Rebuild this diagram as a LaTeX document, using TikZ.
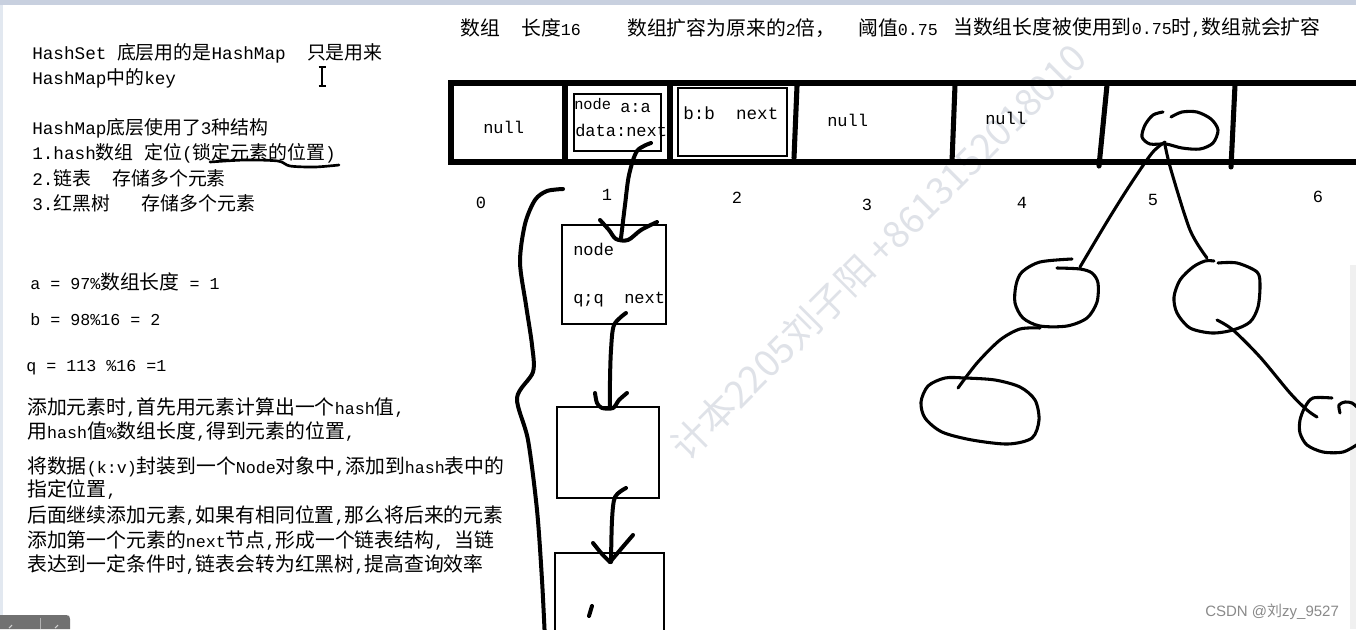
\documentclass[tikz,border=0pt]{standalone}
\usepackage{fontspec}
\setmainfont{Liberation Mono}
\setsansfont{Liberation Sans}
\newfontfamily\cjkA[Scale=1.07]{Noto Sans CJK SC}
\newfontfamily\cjkB[Scale=1.19]{Noto Sans CJK SC}
\newfontfamily\wmfont{Noto Sans CJK SC}
\newfontfamily\csdnzh{Noto Sans CJK SC}
\def\zhfont{\cjkA}
\def\backfont{\rmfamily}
\XeTeXinterchartokenstate=1
\newXeTeXintercharclass\zhclass
\count255="21
\loop \XeTeXcharclass\count255=0 \advance\count255 by 1 \ifnum\count255<"7F \repeat
\count255="3000
\loop \XeTeXcharclass\count255=\zhclass \advance\count255 by 1 \ifnum\count255<"3040 \repeat
\count255="4E00
\loop \XeTeXcharclass\count255=\zhclass \advance\count255 by 1 \ifnum\count255<"A000 \repeat
\count255="FF00
\loop \XeTeXcharclass\count255=\zhclass \advance\count255 by 1 \ifnum\count255<"FFF0 \repeat
\XeTeXinterchartoks 0 \zhclass = {\zhfont}
\XeTeXinterchartoks 4095 \zhclass = {\zhfont}
\XeTeXinterchartoks \zhclass 0 = {\backfont}
\XeTeXinterchartoks \zhclass 4095 = {\backfont}
\definecolor{topstrip}{HTML}{C8D0DF}
\definecolor{leftstrip}{HTML}{E2E8F0}
\definecolor{rightshade}{HTML}{F0F0F0}
\definecolor{wmgray}{HTML}{DFE2E8}
\definecolor{csdngray}{HTML}{8A8A8A}
\definecolor{tabgray}{HTML}{717171}
\tikzset{
  lt/.style={anchor=west, inner sep=0pt, font=\fontsize{13.25}{16}\selectfont\def\zhfont{\cjkA}},
  bt/.style={anchor=west, inner sep=0pt, font=\fontsize{12.5}{16}\selectfont\def\zhfont{\cjkB}},
  mt/.style={inner sep=0pt, font=\fontsize{12.75}{15}\selectfont},
  thinbox/.style={draw, line width=0.9pt, inner sep=0pt},
  frameline/.style={line width=4.1pt},
  divider/.style={line width=3.8pt, line cap=round},
  hand/.style={line width=3pt, line cap=round, line join=round},
  tree/.style={line width=2.3pt, line cap=round, line join=round},
  uline/.style={line width=2pt, line cap=round},
  wm/.style={text=wmgray, inner sep=0pt, rotate=45, font=\fontsize{28}{32}\selectfont\wmfont\def\zhfont{\wmfont}\def\backfont{\wmfont}},
}
\begin{document}
\begin{tikzpicture}[x=0.75pt,y=-0.75pt]
\useasboundingbox (0,0) rectangle (1356,629);
\clip (0,0) rectangle (1356,629);
\fill[white] (0,0) rectangle (1356,629);
\fill[topstrip] (0,0) rectangle (1356,4.5);
\fill[leftstrip] (0,4.5) rectangle (3,615);
\fill[rightshade] (1350,265) rectangle (1356,629);

% watermark
\node[wm] (wm) at (878,252) {计本2205刘子阳 +8613152018010};

% header
\node[bt] (h1) at (460,28) {数组};
\node[bt] (h2) at (521,28) {长度16};
\node[bt] (h3) at (627,28) {数组扩容为原来的2倍，};
\node[bt] (h4) at (858,28) {阈值0.75};
\node[bt] (h5) at (953,28) {当数组长度被使用到0.75时,数组就会扩容};

% left explanation
\node[lt] (t1) at (32,53) {HashSet 底层用的是HashMap\ \ 只是用来};
\node[lt] (t2) at (32,78) {HashMap中的key};
\node[lt] (t3) at (32,128) {HashMap底层使用了3种结构};
\node[lt] (t4) at (32,153) {1.hash数组 定位(锁定元素的位置)};
\node[lt] (t5) at (32,178) {2.链表\ \ 存储多个元素};
\node[lt] (t6) at (32,203) {3.红黑树\ \ \ 存储多个元素};
\draw[uline] plot[smooth] coordinates {(210,162) (245,160) (278,161) (290,166) (315,167) (339,165)};
\draw[line width=0.9pt] (322,67) -- (322,86) (318.5,67) -- (325.5,67) (318.5,86) -- (325.5,86);

\node[bt] (e1) at (30,282) {a = 97\%数组长度 = 1};
\node[bt] (e2) at (30,320) {b = 98\%16 = 2};
\node[bt] (e3) at (26,368) {q = 113 \%16 =1};

\node[bt] (b1) at (27,408) {添加元素时,首先用元素计算出一个hash值,};
\node[bt] (b2) at (27,432) {用hash值\%数组长度,得到元素的位置,};
\node[bt] (b3) at (27,467) {将数据(k:v)封装到一个Node对象中,添加到hash表中的};
\node[bt] (b4) at (27,490) {指定位置,};
\node[bt] (b5) at (27,516) {后面继续添加元素,如果有相同位置,那么将后来的元素};
\node[bt] (b6) at (27,541) {添加第一个元素的next节点,形成一个链表结构,\ 当链};
\node[bt] (b7) at (27,565) {表达到一定条件时,链表会转为红黑树,提高查询效率};

% array
\draw[frameline] (1362,83) -- (451,83) -- (451,162) -- (1362,162);
\draw[divider] (565,85) -- (565,160);
\draw[divider] (670,85) -- (670,160);
\draw[divider] (797,86) -- (794,158);
\draw[divider] (955,85) -- (952,162);
\draw[divider] (1107,85) -- (1099,166);
\draw[divider] (1235,85) -- (1231,167);

\node[thinbox, minimum width=65.25pt, minimum height=42.75pt] (cb1) at (617.5,122.5) {};
\node[thinbox, line width=1.2pt, minimum width=81.75pt, minimum height=51pt] (cb2) at (732.5,122) {};
\node[mt, anchor=west, font=\fontsize{11.5}{12}\selectfont] (cb1n) at (574,104) {node};
\node[mt, anchor=west] (cb1a) at (620,108) {a:a};
\node[mt, anchor=west] (cb1d) at (575,130) {data:next};
\node[mt, anchor=west, font=\fontsize{13.2}{15}\selectfont] (cb2t) at (683,113) {b:b\ \ next};

\node[mt, anchor=west] (n0) at (483,127) {null};
\node[mt, anchor=west] (n3) at (827,120) {null};
\node[mt, anchor=west] (n4) at (985,118) {null};

\node[mt] (i0) at (481,203) {0};
\node[mt] (i1) at (607,195) {1};
\node[mt] (i2) at (737,198) {2};
\node[mt] (i3) at (867,205) {3};
\node[mt] (i4) at (1022,203) {4};
\node[mt] (i5) at (1153,200) {5};
\node[mt] (i6) at (1318,197) {6};

% linked list
\node[thinbox, minimum width=78pt, minimum height=74.25pt] (L1) at (614,274.5) {};
\node[thinbox, minimum width=76.5pt, minimum height=68.25pt] (L2) at (608,452.5) {};
\node[thinbox, minimum width=81.75pt, minimum height=65.25pt] (L3) at (609.5,596.5) {};
\node[mt, anchor=west] (L1a) at (573,249) {node};
\node[mt, anchor=west] (L1b) at (573,300) {q;q\ \ next};

\coordinate (a1s) at (651,143);
\coordinate (a1e) at (621,238);
\draw[hand] plot[smooth] coordinates {(a1s) (637,151) (629,175) (625,205) (a1e)};
\draw[hand] plot[smooth] coordinates {(600,220) (609,230) (616,239) (628,240) (641,230) (657,222)};
\coordinate (a2s) at (626,313);
\coordinate (a2e) at (610,407);
\draw[hand] plot[smooth] coordinates {(a2s) (614,325) (611,350) (610,380) (a2e)};
\draw[hand] plot[smooth] coordinates {(595,393) (597,403) (602,408) (613,408) (619,400) (627,393)};
\coordinate (a3s) at (626,488);
\coordinate (a3e) at (611,562);
\draw[hand] plot[smooth] coordinates {(a3s) (615,497) (612,520) (a3e)};
\draw[hand] plot[smooth] coordinates {(593,543) (602,554) (610,562)};
\draw[hand] plot[smooth] coordinates {(633,535) (621,549) (610,562)};
\draw[hand] (592,606) -- (589,616);

% brace
\draw[hand] plot[smooth] coordinates {(563,189) (547,191) (535,200) (525,224) (520,262) (526,305) (532,345) (533,372) (517,398) (528,440) (537,510) (542,580) (545,640)};

% tree
\draw[tree] plot[smooth] coordinates {(1163,112) (1153,115) (1145,125) (1142,137) (1150,144) (1166,144) (1182,148) (1200,149) (1213,143) (1218,130) (1211,119) (1197,112) (1182,112) (1171,117)};
\draw[tree] plot[smooth] coordinates {(1165,142) (1152,153) (1130,185) (1108,220) (1080,267)};
\draw[tree] plot[smooth] coordinates {(1165,145) (1171,170) (1190,230) (1207,258)};
\draw[tree] plot[smooth] coordinates {(1072,259) (1040,262) (1022,272) (1016,285) (1015,303) (1023,318) (1040,326) (1067,326) (1087,318) (1097,302) (1098,283) (1092,273) (1080,269) (1057,268)};
\draw[tree] plot[smooth] coordinates {(1040,328) (1020,329) (1000,340) (977,363) (958,388)};
\draw[tree] plot[smooth cycle] coordinates {(945,378) (928,386) (921,402) (925,418) (942,432) (972,440) (1008,444) (1032,438) (1039,420) (1035,400) (1020,387) (995,380) (965,378)};
\draw[tree] plot[smooth] coordinates {(1218,263) (1237,263) (1257,272) (1260,285) (1258,307) (1250,322) (1233,330) (1212,333) (1190,328) (1177,313) (1174,297) (1180,280) (1193,267) (1205,261) (1214,261)};
\draw[tree] plot[smooth] coordinates {(1217,320) (1233,330) (1260,357) (1290,393) (1307,410) (1317,417)};
\draw[tree] plot[smooth] coordinates {(1332,398) (1313,398) (1305,407) (1300,420) (1300,433) (1307,445) (1323,452) (1343,452) (1358,444)};
\draw[tree] plot[smooth] coordinates {(1340,413) (1339,405) (1345,402) (1352,403) (1358,408)};

% footer
\node[anchor=west, inner sep=0pt, text=csdngray, font=\fontsize{11.25}{13}\selectfont\sffamily\def\backfont{\sffamily}\def\zhfont{\csdnzh}] (csdn) at (1205,612) {CSDN @刘zy\_9527};
\fill[tabgray] (0,615) -- (66,615) .. controls (69,615) and (70,616) .. (70,619) -- (70,629) -- (0,629) -- cycle;
\draw[gray!60, line width=0.6pt] (40,618) -- (40,629);
\draw[gray!35, line width=0.8pt] (9,628) -- (12,625) (55,628) -- (58,625);
\end{tikzpicture}
\end{document}
